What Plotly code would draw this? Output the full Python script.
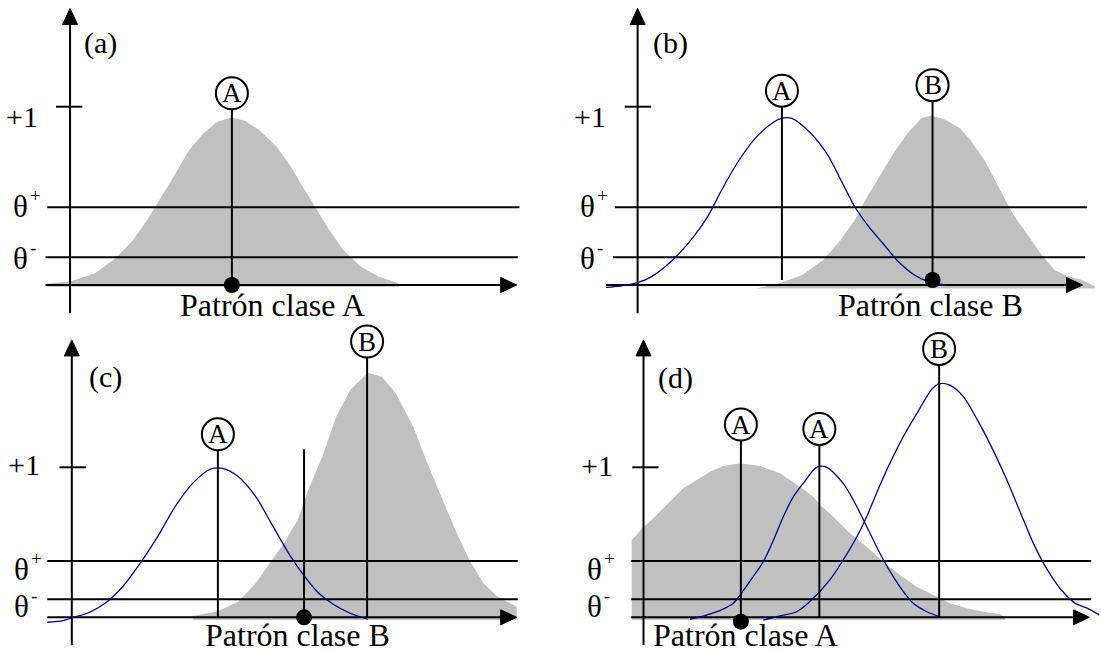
import plotly.graph_objects as go

W, H = 1101, 652
FONT = "Liberation Serif"
GRAY = "#c0c0c0"
BLUE = "#00008c"

# ---------------- data (x along each panel's input axis, y relative to the "+1" level) ----------------
panel_tags = ["(a)", "(b)", "(c)", "(d)"]
captions = ["Patrón clase A", "Patrón clase B", "Patrón clase B", "Patrón clase A"]
theta_plus = [0.436, 0.436, 0.376, 0.376]
theta_minus = [0.155, 0.155, 0.12, 0.12]

# (a) response of prototype A (gray)
a_gray_x = [-0.65, 0.0, 0.7, 1.3, 1.8, 2.2, 2.5, 2.9, 3.4, 3.8, 4.2, 4.6, 5.0, 5.4, 5.9, 6.3, 6.7, 7.0, 7.4, 7.8, 8.3, 8.8, 9.4]
a_gray_y = [0.009, 0.019, 0.065, 0.15, 0.252, 0.364, 0.458, 0.589, 0.757, 0.85, 0.916, 0.94, 0.921, 0.869, 0.776, 0.664, 0.533, 0.439, 0.308, 0.196, 0.103, 0.047, 0.009]

# (b) prototype A (blue) and new prototype B (gray)
b_blue_x = [-0.9, -0.5, 0.0, 0.4, 1.0, 1.6, 2.0, 2.4, 2.9, 3.4, 3.9, 4.1, 4.4, 4.9, 5.4, 5.9, 6.2, 6.6, 7.0, 7.4, 7.9, 8.3, 8.8]
b_blue_y = [-0.013, -0.006, 0.013, 0.047, 0.14, 0.271, 0.383, 0.533, 0.701, 0.832, 0.916, 0.935, 0.935, 0.86, 0.738, 0.551, 0.439, 0.327, 0.234, 0.14, 0.056, 0.019, 0.0]
b_gray_x = [3.4, 4.1, 4.7, 5.3, 5.8, 6.2, 6.5, 6.9, 7.3, 7.7, 8.1, 8.4, 8.8, 9.2, 9.5, 9.9, 10.3, 10.7, 11.1, 11.5, 11.9, 12.3, 12.7, 13.05]
b_gray_y = [-0.019, 0.013, 0.056, 0.14, 0.252, 0.364, 0.477, 0.607, 0.738, 0.85, 0.935, 0.95, 0.925, 0.879, 0.813, 0.701, 0.551, 0.402, 0.29, 0.178, 0.084, 0.047, 0.028, -0.009]

# (c) prototype A (blue) and reinforced prototype B (gray)
c_blue_x = [-0.7, -0.25, 0.05, 0.45, 0.95, 1.45, 1.95, 2.45, 2.95, 3.45, 3.95, 4.3, 4.75, 5.25, 5.75, 6.25, 6.65, 7.05, 7.45, 7.95, 8.45]
c_blue_y = [-0.033, -0.022, 0.0, 0.027, 0.093, 0.204, 0.36, 0.538, 0.738, 0.893, 0.987, 0.993, 0.938, 0.804, 0.604, 0.404, 0.271, 0.16, 0.089, 0.027, -0.013]
c_gray_x = [3.45, 4.15, 4.75, 5.25, 5.65, 6.05, 6.45, 6.75, 7.15, 7.55, 7.95, 8.45, 8.85, 9.25, 9.75, 10.15, 10.55, 10.95, 11.35, 11.75, 12.15, 12.7]
c_gray_y = [0.009, 0.038, 0.104, 0.227, 0.36, 0.493, 0.649, 0.849, 1.071, 1.338, 1.516, 1.631, 1.604, 1.493, 1.271, 1.027, 0.804, 0.582, 0.382, 0.227, 0.138, 0.071]

# (d) new prototype A (gray), earlier A and B (blue)
d_gray_x = [-0.337, -0.006, 0.28, 0.565, 0.851, 1.136, 1.519, 1.898, 2.278, 2.755, 3.326, 3.897, 4.468, 4.847, 5.039, 5.418, 5.894, 6.372, 6.846, 7.322, 7.799, 8.273, 8.75, 9.226, 9.7, 10.177, 10.32]
d_gray_y = [0.515, 0.6, 0.66, 0.727, 0.793, 0.86, 0.915, 0.971, 1.009, 1.027, 1.009, 0.96, 0.871, 0.804, 0.749, 0.671, 0.56, 0.471, 0.371, 0.282, 0.204, 0.149, 0.093, 0.06, 0.037, 0.022, 0.0]
d_blue_a_x = [1.33, 1.8, 2.18, 2.56, 2.76, 3.13, 3.42, 3.71, 3.99, 4.28, 4.56, 4.94, 5.23, 5.7, 5.99, 6.28, 6.56, 6.85, 7.13, 7.42, 7.7, 8.09, 8.46]
d_blue_a_y = [-0.013, 0.015, 0.044, 0.093, 0.149, 0.271, 0.371, 0.515, 0.671, 0.804, 0.893, 1.0, 1.0, 0.893, 0.782, 0.649, 0.515, 0.382, 0.271, 0.171, 0.093, 0.037, 0.004]
d_blue_b_x = [3.42, 3.9, 4.37, 4.75, 5.32, 5.7, 6.09, 6.37, 6.75, 7.04, 7.43, 7.83, 8.23, 8.43, 8.73, 9.13, 9.53, 9.93, 10.33, 10.73, 11.13, 11.53, 11.93, 12.33, 12.63, 13.01]
d_blue_b_y = [-0.018, 0.009, 0.037, 0.105, 0.249, 0.382, 0.537, 0.671, 0.88, 1.03, 1.21, 1.37, 1.52, 1.556, 1.549, 1.471, 1.316, 1.138, 0.938, 0.716, 0.493, 0.316, 0.182, 0.093, 0.064, 0.016]

gray_curves = [(a_gray_x, a_gray_y), (b_gray_x, b_gray_y), (c_gray_x, c_gray_y), (d_gray_x, d_gray_y)]
blue_curves = [[], [(b_blue_x, b_blue_y)], [(c_blue_x, c_blue_y)], [(d_blue_a_x, d_blue_a_y), (d_blue_b_x, d_blue_b_y)]]
gray_floor = [-0.01, -0.02, -0.018, -0.018]

# prototype markers: circled label on top of a vertical line
proto_panel = [0, 1, 1, 2, 2, 3, 3, 3]
proto_label = ["A", "A", "B", "A", "B", "A", "A", "B"]
proto_x = [4.62, 4.12, 8.42, 4.17, 8.43, 2.78, 5.02, 8.44]
proto_base = [0.0, 0.028, 0.028, 0.0, 0.0, -0.029, 0.0, 0.0]
proto_top = [1.075, 1.09, 1.121, 1.22, 1.838, 1.285, 1.256, 1.789]

# presented pattern (black dot); in (c) it carries a bare line
pattern_x = [4.62, 8.42, 6.63, 2.78]
pattern_y = [0.0, 0.028, 0.0, -0.029]
probe_top = [None, None, 1.12, None]

# ---------------- layout of the four panels (pixels) ----------------
XSCALE = 35.03
panel_origin = [(70.05, 285.0), (637.6, 285.0), (71.8, 617.3), (643.5, 617.3)]
panel_yscale = [178.3, 178.3, 150.0, 150.0]
xaxis_ext = [(-0.7, 12.75), (-0.9, 12.7), (-0.7, 12.7), (-0.35, 12.73)]
yaxis_ext = [(-0.159, 1.551), (-0.159, 1.551), (-0.184, 1.849), (-0.184, 1.849)]
thp_ext = [(-0.65, 12.83), (-0.65, 12.83), (-0.7, 12.73), (-0.35, 12.78)]
thm_ext = [(-0.7, 12.78), (-0.7, 12.78), (-0.7, 12.73), (-0.35, 12.78)]
tick_ext = [(-0.4, 0.35), (-0.37, 0.38), (-0.35, 0.4), (-0.32, 0.43)]
tag_pos = [(0.88, 1.355), (0.95, 1.355), (0.95, 1.6), (0.9, 1.595)]
one_pos = [(-0.85, 0.944), (-0.85, 0.944), (-0.85, 1.016), (-0.814, 1.009)]
theta_lab_x = [-0.83, -0.85, -0.85, -0.82]
thp_lab_y = [0.44, 0.44, 0.32, 0.316]
thm_lab_y = [0.15, 0.15, 0.071, 0.071]
caption_pos = [(5.78, -0.112), (8.35, -0.112), (6.43, -0.118), (2.9, -0.118)]

HEAD_LEN, HEAD_W = 16.0, 15.0
LINE_W = 2
SUP_W = 11.0      # pixel width reserved for the threshold sign
SUP_RISE = 11.0   # pixel rise of the threshold sign

fig = go.Figure()
annotations = []
layout_axes = {}


def refs(i):
    s = "" if i == 0 else str(i + 1)
    return "x" + s, "y" + s, s


for i in range(4):
    xr, yr, s = refs(i)
    ox, oy = panel_origin[i]
    sy = panel_yscale[i]
    layout_axes["xaxis" + s] = dict(domain=[0, 1], range=[-ox / XSCALE, (W - ox) / XSCALE],
                                    visible=False, fixedrange=True, anchor=yr)
    layout_axes["yaxis" + s] = dict(domain=[0, 1], range=[(oy - H) / sy, oy / sy],
                                    visible=False, fixedrange=True, anchor=xr)
    kw = dict(xaxis=xr, yaxis=yr, showlegend=False, hoverinfo="skip")

    # gray response area
    gx, gy = gray_curves[i]
    fig.add_trace(go.Scatter(x=[gx[0]] + gx + [gx[-1]], y=[gray_floor[i]] + gy + [gray_floor[i]],
                             mode="lines", fill="toself", fillcolor=GRAY,
                             line=dict(width=0, color=GRAY), **kw))

    # axes, thresholds and the +1 tick
    hx = HEAD_LEN / XSCALE
    hy = HEAD_LEN / sy
    x0, x1 = xaxis_ext[i]
    y0, y1 = yaxis_ext[i]
    lx, ly = [], []
    for (a, b), yy in ((thp_ext[i], theta_plus[i]), (thm_ext[i], theta_minus[i]), (tick_ext[i], 1.0)):
        lx += [a, b, None]
        ly += [yy, yy, None]
    lx += [x0, x1 - hx, None, 0, 0, None]
    ly += [0, 0, None, y0, y1 - hy, None]
    fig.add_trace(go.Scatter(x=lx, y=ly, mode="lines", line=dict(color="black", width=LINE_W), **kw))

    # arrow heads
    hw_y = HEAD_W / 2 / sy
    hw_x = HEAD_W / 2 / XSCALE
    fig.add_trace(go.Scatter(x=[x1, x1 - hx, x1 - hx, x1], y=[0, hw_y, -hw_y, 0], mode="lines",
                             fill="toself", fillcolor="black", line=dict(color="black", width=1), **kw))
    fig.add_trace(go.Scatter(x=[0, -hw_x, hw_x, 0], y=[y1, y1 - hy, y1 - hy, y1], mode="lines",
                             fill="toself", fillcolor="black", line=dict(color="black", width=1), **kw))

    # blue responses of earlier prototypes
    for bx, by in blue_curves[i]:
        fig.add_trace(go.Scatter(x=bx, y=by, mode="lines",
                                 line=dict(color=BLUE, width=1.3, shape="spline", smoothing=0.8), **kw))

    # prototype stems
    vx, vy = [], []
    for k in range(len(proto_x)):
        if proto_panel[k] == i:
            vx += [proto_x[k], proto_x[k], None]
            vy += [proto_base[k], proto_top[k], None]
    if probe_top[i] is not None:
        vx += [pattern_x[i], pattern_x[i], None]
        vy += [pattern_y[i], probe_top[i], None]
    fig.add_trace(go.Scatter(x=vx, y=vy, mode="lines", line=dict(color="black", width=LINE_W), **kw))

    # circles of the prototype labels
    cx = [proto_x[k] for k in range(len(proto_x)) if proto_panel[k] == i]
    cy = [proto_top[k] for k in range(len(proto_x)) if proto_panel[k] == i]
    ct = [proto_label[k] for k in range(len(proto_x)) if proto_panel[k] == i]
    fig.add_trace(go.Scatter(x=cx, y=cy, mode="markers",
                             marker=dict(symbol="circle", size=32, color="white",
                                         line=dict(color="black", width=2)),
                             cliponaxis=False, **kw))

    # presented pattern
    fig.add_trace(go.Scatter(x=[pattern_x[i]], y=[pattern_y[i]], mode="markers",
                             marker=dict(size=16, color="black"), cliponaxis=False, **kw))

    # texts
    def note(x, y, text, size=30, xanchor="center"):
        annotations.append(dict(x=x, y=y, xref=xr, yref=yr, text=text, showarrow=False,
                                xanchor=xanchor, yanchor="middle",
                                font=dict(family=FONT, size=size, color="black")))

    for x, y, t in zip(cx, cy, ct):
        note(x, y, t, size=27)
    note(tag_pos[i][0], tag_pos[i][1], panel_tags[i])
    note(one_pos[i][0], one_pos[i][1], "+1", xanchor="right")
    tx = theta_lab_x[i] - SUP_W / XSCALE
    for ly_, sign in ((thp_lab_y[i], "+"), (thm_lab_y[i], "-")):
        note(tx, ly_, "θ", size=31, xanchor="right")
        note(tx - 2 / XSCALE, ly_ + SUP_RISE / sy, sign, size=19, xanchor="left")
    note(caption_pos[i][0], caption_pos[i][1], captions[i], size=32)

fig.update_layout(
    width=W, height=H, margin=dict(l=0, r=0, t=0, b=0),
    paper_bgcolor="white", plot_bgcolor="rgba(0,0,0,0)",
    annotations=annotations, **layout_axes,
)
fig.write_html("out.html")
